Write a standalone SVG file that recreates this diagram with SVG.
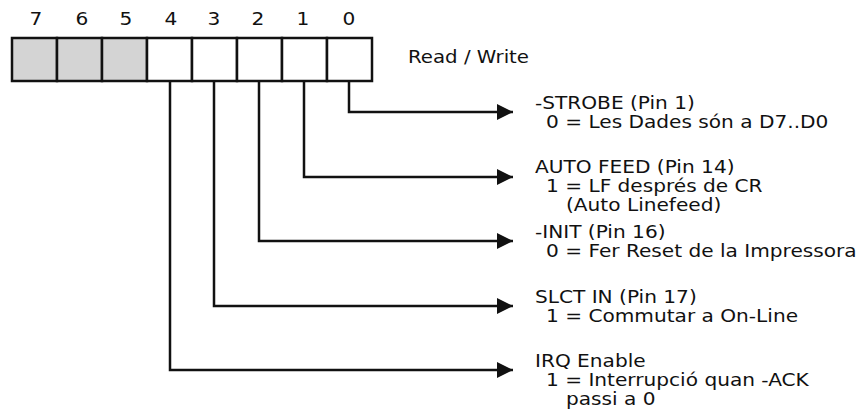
<svg xmlns="http://www.w3.org/2000/svg" width="868" height="417" viewBox="0 0 868 417">
<style>
text{font-family:"DejaVu Sans",Verdana,sans-serif;font-size:17.5px;fill:#111}
.d{text-anchor:middle;font-size:18px}
.cell{stroke:#111;stroke-width:2.5;fill:#fff}
.g{fill:#d4d4d4}
.c{fill:none;stroke:#111;stroke-width:2.5}
</style>
<defs>
<marker id="ah" markerUnits="userSpaceOnUse" markerWidth="18" markerHeight="16" refX="16" refY="8" orient="auto">
<path d="M0,0 L16,8 L0,16 Z" fill="#111"/>
</marker>
</defs>
<rect width="868" height="417" fill="#fff"/>
<g id="register">
<rect class="cell g" x="12" y="38" width="45" height="43"/>
<rect class="cell g" x="57" y="38" width="45" height="43"/>
<rect class="cell g" x="102" y="38" width="45" height="43"/>
<rect class="cell" x="147" y="38" width="45" height="43"/>
<rect class="cell" x="192" y="38" width="45" height="43"/>
<rect class="cell" x="237" y="38" width="45" height="43"/>
<rect class="cell" x="282" y="38" width="45" height="43"/>
<rect class="cell" x="327" y="38" width="45" height="43"/>
<text class="d" transform="translate(36,25) scale(1.12,1)">7</text>
<text class="d" transform="translate(82,25) scale(1.12,1)">6</text>
<text class="d" transform="translate(126,25) scale(1.12,1)">5</text>
<text class="d" transform="translate(171,25) scale(1.12,1)">4</text>
<text class="d" transform="translate(214,25) scale(1.12,1)">3</text>
<text class="d" transform="translate(258,25) scale(1.12,1)">2</text>
<text class="d" transform="translate(303,25) scale(1.12,1)">1</text>
<text class="d" transform="translate(349,25) scale(1.12,1)">0</text>
<text transform="translate(408,63) scale(1.13,1)">Read / Write</text>
</g>
<g id="connectors">
<path class="c" d="M349,81 V112 H513" marker-end="url(#ah)"/>
<path class="c" d="M304,81 V177 H513" marker-end="url(#ah)"/>
<path class="c" d="M259,81 V241 H513" marker-end="url(#ah)"/>
<path class="c" d="M214,81 V306 H513" marker-end="url(#ah)"/>
<path class="c" d="M170,81 V370 H513" marker-end="url(#ah)"/>
</g>
<g id="bit0">
<text transform="translate(535,109) scale(1.15,1)">-STROBE (Pin 1)</text>
<text transform="translate(546,128) scale(1.15,1)">0 = Les Dades són a D7..D0</text>
</g>
<g id="bit1">
<text transform="translate(535,173) scale(1.15,1)">AUTO FEED (Pin 14)</text>
<text transform="translate(546,192) scale(1.15,1)">1 = LF després de CR</text>
<text transform="translate(566,211) scale(1.15,1)">(Auto Linefeed)</text>
</g>
<g id="bit2">
<text transform="translate(535,238) scale(1.15,1)">-INIT (Pin 16)</text>
<text transform="translate(546,257) scale(1.15,1)">0 = Fer Reset de la Impressora</text>
</g>
<g id="bit3">
<text transform="translate(535,303) scale(1.15,1)">SLCT IN (Pin 17)</text>
<text transform="translate(546,322) scale(1.15,1)">1 = Commutar a On-Line</text>
</g>
<g id="bit4">
<text transform="translate(535,367) scale(1.15,1)">IRQ Enable</text>
<text transform="translate(546,386) scale(1.15,1)">1 = Interrupció quan -ACK</text>
<text transform="translate(566,405) scale(1.15,1)">passi a 0</text>
</g>
</svg>
